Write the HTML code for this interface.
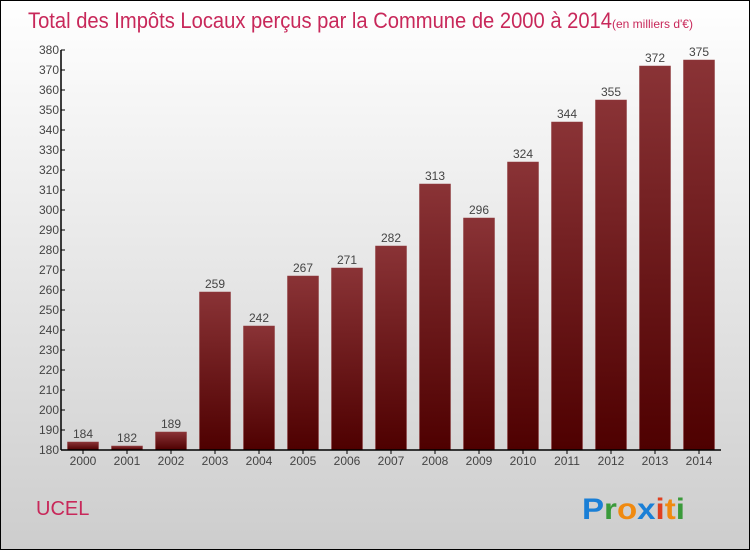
<!DOCTYPE html>
<html><head><meta charset="utf-8"><style>
body{margin:0}
#c{width:748px;height:548px;border:1px solid #000;position:relative;background:linear-gradient(#ffffff,#cdcdcd);font-family:"Liberation Sans",sans-serif;overflow:hidden}
</style></head><body>
<div id="c">
<svg width="748" height="548" id="svg">
<defs><linearGradient id="bg" x1="0" y1="0" x2="0" y2="1"><stop offset="0" stop-color="#8a3336"/><stop offset="1" stop-color="#4e0000"/></linearGradient></defs>
<text x="27" y="27" font-size="22" fill="#c8285a" textLength="584" lengthAdjust="spacingAndGlyphs">Total des Impôts Locaux perçus par la Commune de 2000 à 2014</text>
<text x="611" y="27" font-size="12" fill="#c8285a">(en milliers d'€)</text>
<text x="35" y="514" font-size="20" fill="#c8285a">UCEL</text>
<g font-size="30" font-weight="bold" font-family="'Liberation Sans',sans-serif">
<text x="581" y="518" textLength="103" lengthAdjust="spacingAndGlyphs"><tspan fill="#1a7fd6">P</tspan><tspan fill="#3a9a3a">r</tspan><tspan fill="#f08a10">o</tspan><tspan fill="#1a7fd6">x</tspan><tspan fill="#e04020">i</tspan><tspan fill="#f08a10">t</tspan><tspan fill="#3a9a3a">i</tspan></text></g>
<g id="plot"></g>
</svg></div>
<script>
const years=["2000","2001","2002","2003","2004","2005","2006","2007","2008","2009","2010","2011","2012","2013","2014"];
const values=[184,182,189,259,242,267,271,282,313,296,324,344,355,372,375];
const yTicks=[180,190,200,210,220,230,240,250,260,270,280,290,300,310,320,330,340,350,360,370,380];
const NS="http://www.w3.org/2000/svg";
const g=document.getElementById('plot');
const x0=60,x1=720,yMin=180,yMax=380,pyTop=49,pyBot=449;
const step=(x1-x0)/years.length;
function Y(v){return pyBot-(v-yMin)/(yMax-yMin)*(pyBot-pyTop);}
function X(i){return x0+step*i+step/2;}
function mk(t,a){const e=document.createElementNS(NS,t);for(const k in a)e.setAttribute(k,a[k]);g.appendChild(e);return e;}
values.forEach((v,i)=>{
 const r=mk('rect',{x:X(i)-15.5,y:Y(v),width:31,height:pyBot-Y(v),fill:'url(#bg)',stroke:'#8e3a3c','stroke-width':0.5});
 
 
 const t=mk('text',{x:X(i),y:Y(v)-4,'text-anchor':'middle','font-size':12,fill:'#444'});
 t.textContent=v;
 
 
 const xl=mk('text',{x:X(i),y:pyBot+15,'text-anchor':'middle','font-size':12,fill:'#444'});
 xl.textContent=years[i];
 
 
 const tk=mk('line',{x1:X(i),x2:X(i),y1:pyBot,y2:pyBot+4,stroke:'#000'});
 
 
});
yTicks.forEach(v=>{
 const l=mk('line',{x1:x0,x2:x0+4,y1:Y(v),y2:Y(v),stroke:'#000'});
 
 
 const t=mk('text',{x:x0-2,y:Y(v)+4,'text-anchor':'end','font-size':12,fill:'#444'});
 t.textContent=v;
 
 
});
const ya=mk('line',{x1:x0,x2:x0,y1:pyTop,y2:pyBot,stroke:'#000','stroke-width':1.5});


const xa=mk('line',{x1:x0,x2:x1,y1:pyBot,y2:pyBot,stroke:'#000','stroke-width':1.5});


</script>
</body></html>
